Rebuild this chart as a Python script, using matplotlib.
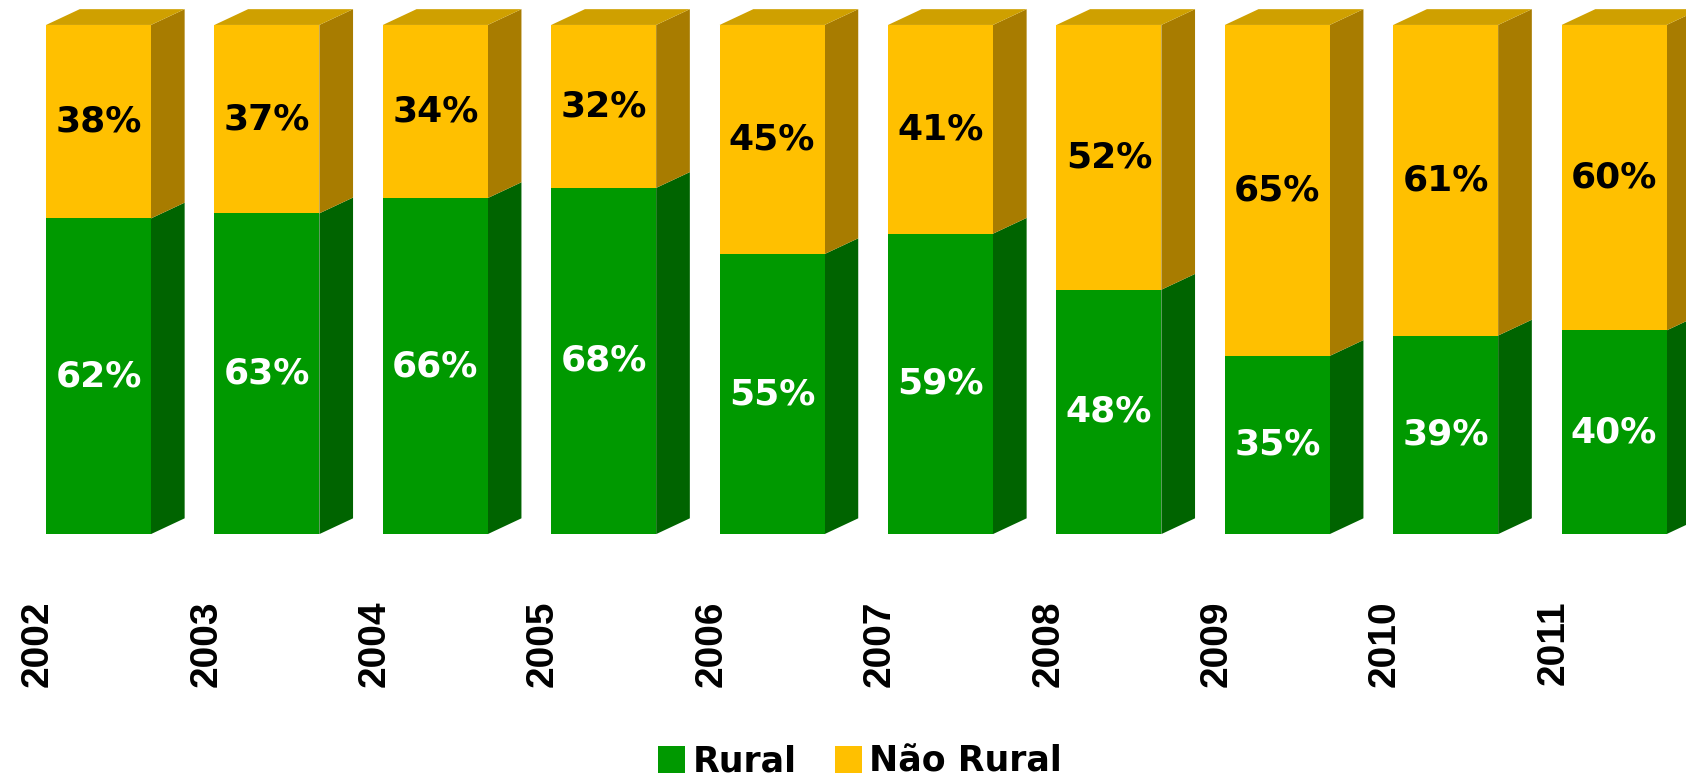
import numpy as np
import matplotlib.pyplot as plt
from matplotlib.patches import Polygon, Patch

anos = ['2002', '2003', '2004', '2005', '2006', '2007', '2008', '2009', '2010', '2011']
rural = np.array([62, 63, 66, 68, 55, 59, 48, 35, 39, 40])
nao_rural = np.array([38, 37, 34, 32, 45, 41, 52, 65, 61, 60])

verde, verde_lado = '#009900', '#006400'
amarelo, amarelo_lado, amarelo_topo = '#FFC000', '#A87C00', '#CFA000'

fig = plt.figure(figsize=(16.86, 7.79), dpi=100)
ax = fig.add_axes([0, 0, 1, 1])
ax.set_xlim(-0.585, 9.427)
ax.set_ylim(-48.1, 104.9)
ax.axis('off')

x = np.arange(len(anos))
w = 0.623
dx, dy = 0.2, 3.1   # profundidade do efeito 3D

ax.bar(x, rural, width=w, color=verde, linewidth=0, zorder=3)
ax.bar(x, nao_rural, bottom=rural, width=w, color=amarelo, linewidth=0, zorder=3)

for i in range(len(x)):
    r = x[i] + w / 2
    g = rural[i]
    t = rural[i] + nao_rural[i]
    # lados
    ax.add_patch(Polygon([(r, 0), (r + dx, dy), (r + dx, g + dy), (r, g)],
                         closed=True, facecolor=verde_lado, linewidth=0, zorder=2))
    ax.add_patch(Polygon([(r, g), (r + dx, g + dy), (r + dx, t + dy), (r, t)],
                         closed=True, facecolor=amarelo_lado, linewidth=0, zorder=2))
    # topo
    l = x[i] - w / 2
    ax.add_patch(Polygon([(l, t), (l + dx, t + dy), (r + dx, t + dy), (r, t)],
                         closed=True, facecolor=amarelo_topo, linewidth=0, zorder=2))
    ax.text(x[i], g / 2, f'{rural[i]}%', ha='center', va='center', color='white',
            fontsize=26, fontweight='bold', zorder=4)
    ax.text(x[i], g + nao_rural[i] / 2, f'{nao_rural[i]}%', ha='center', va='center',
            color='black', fontsize=26, fontweight='bold', zorder=4)
    ax.text(x[i] - 0.36, -13.0, anos[i], rotation=90, ha='center', va='top',
            fontsize=28, fontweight='bold', family='Liberation Sans')

handles = [Patch(facecolor=verde, edgecolor='none', label='Rural'),
           Patch(facecolor=amarelo, edgecolor='none', label='Não Rural')]
fig.legend(handles=handles, loc='lower center', bbox_to_anchor=(0.51, -0.022), ncol=2,
           frameon=False, prop={'weight': 'bold', 'size': 25}, handlelength=0.8,
           handleheight=0.8, handletextpad=0.2, columnspacing=1.1, borderpad=0)

fig.savefig('out.png', dpi=100)
